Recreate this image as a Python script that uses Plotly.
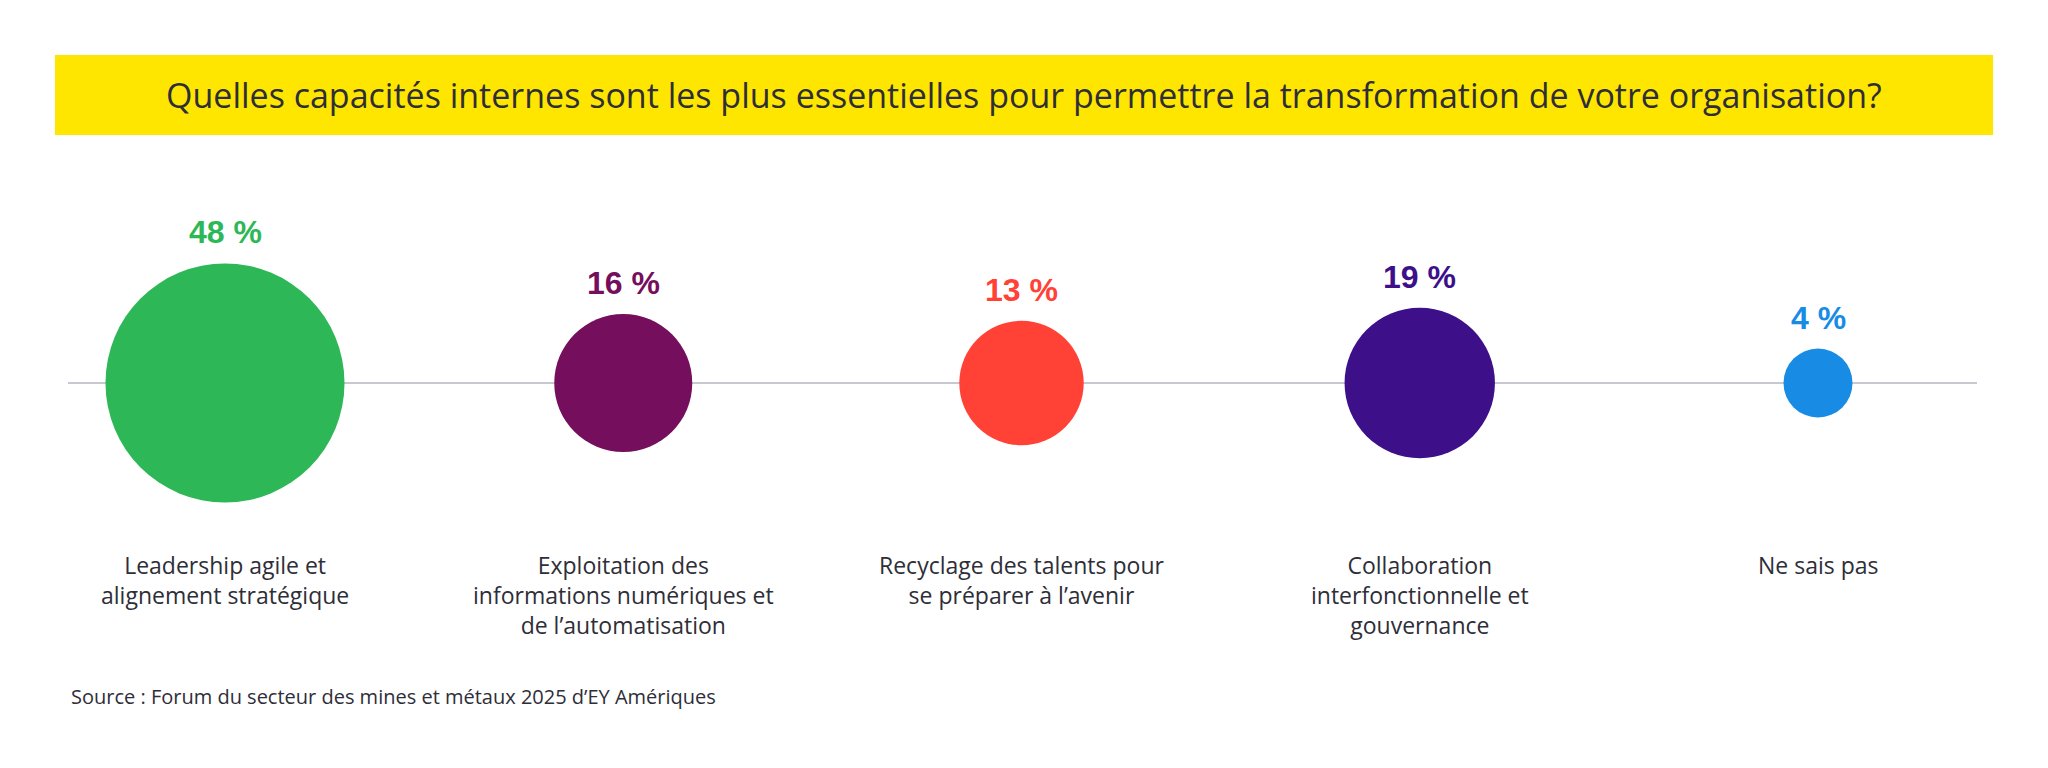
import plotly.graph_objects as go

categories = [
    "Leadership agile et<br>alignement stratégique",
    "Exploitation des<br>informations numériques et<br>de l’automatisation",
    "Recyclage des talents pour<br>se préparer à l’avenir",
    "Collaboration<br>interfonctionnelle et<br>gouvernance",
    "Ne sais pas",
]
values = [48, 16, 13, 19, 4]
value_labels = ["48 %", "16 %", "13 %", "19 %", "4 %"]
colors = ["#2DB757", "#750E5C", "#FF4136", "#3D108A", "#188CE5"]
title_text = "Quelles capacités internes sont les plus essentielles pour permettre la transformation de votre organisation?"
source_text = "Source : Forum du secteur des mines et métaux 2025 d’EY Amériques"

W, H = 2048, 768
OFF = 8  # page body margin offset
FONT = "Open Sans, Liberation Sans, Arial, sans-serif"
BFONT = "Liberation Sans, Arial, sans-serif"
TXT = "#2E2E38"

def px_x(p):
    return (p - OFF) / W

def px_y(p):
    return 1 - (p - OFF) / H

# bubble scaling: radius_px = K * sqrt(value)
K = 17.25
sizeref = 1.0 / (2 * K * K)

xs = list(range(len(values)))

fig = go.Figure()
fig.add_trace(go.Scatter(
    x=xs, y=[0] * len(values), mode="markers",
    marker=dict(size=values, sizemode="area", sizeref=sizeref,
                color=colors, line=dict(width=0), opacity=1),
    hoverinfo="skip", showlegend=False,
))

annotations = []
for i, (v, lab, c, cat) in enumerate(zip(values, value_labels, colors, categories)):
    r = K * v ** 0.5
    annotations.append(dict(
        x=i, y=0, xref="x", yref="y", text=f"<b>{lab}</b>", showarrow=False,
        yanchor="middle", xanchor="center", yshift=r + 31,
        font=dict(family=BFONT, size=32, color=c),
    ))
    annotations.append(dict(
        x=i, y=px_y(547), xref="x", yref="paper", text=cat, showarrow=False,
        yanchor="top", xanchor="center", align="center",
        font=dict(family=FONT, size=23, color=TXT),
    ))

annotations.append(dict(
    x=px_x(1024), y=px_y(95), xref="paper", yref="paper", text=title_text,
    showarrow=False, xanchor="center", yanchor="middle",
    font=dict(family=FONT, size=34, color=TXT),
))
annotations.append(dict(
    x=px_x(69), y=px_y(696), xref="paper", yref="paper", text=source_text,
    showarrow=False, xanchor="left", yanchor="middle",
    font=dict(family=FONT, size=20, color=TXT),
))

shapes = [
    dict(type="rect", xref="paper", yref="paper",
         x0=px_x(55), x1=px_x(1993), y0=px_y(135), y1=px_y(55),
         fillcolor="#FFE600", line=dict(width=0), layer="below"),
    dict(type="line", xref="paper", yref="y",
         x0=px_x(68), x1=px_x(1977), y0=0, y1=0,
         line=dict(color="#C8C8D0", width=2), layer="below"),
]

# data x positions: category 0 at screen px 225, spacing 398.25 px
x0_px, dx_px = 225 - OFF, 398.25
# y=0 at screen px 383
y0_px = 383 - OFF
span = H / 2.0
fig.update_layout(
    width=W, height=H,
    margin=dict(l=0, r=0, t=0, b=0),
    paper_bgcolor="white", plot_bgcolor="white",
    xaxis=dict(range=[-x0_px / dx_px, (W - x0_px) / dx_px], visible=False, fixedrange=True),
    yaxis=dict(range=[-(H - y0_px) / span, y0_px / span], visible=False, fixedrange=True),
    annotations=annotations, shapes=shapes,
)

fig.write_html("out.html")
